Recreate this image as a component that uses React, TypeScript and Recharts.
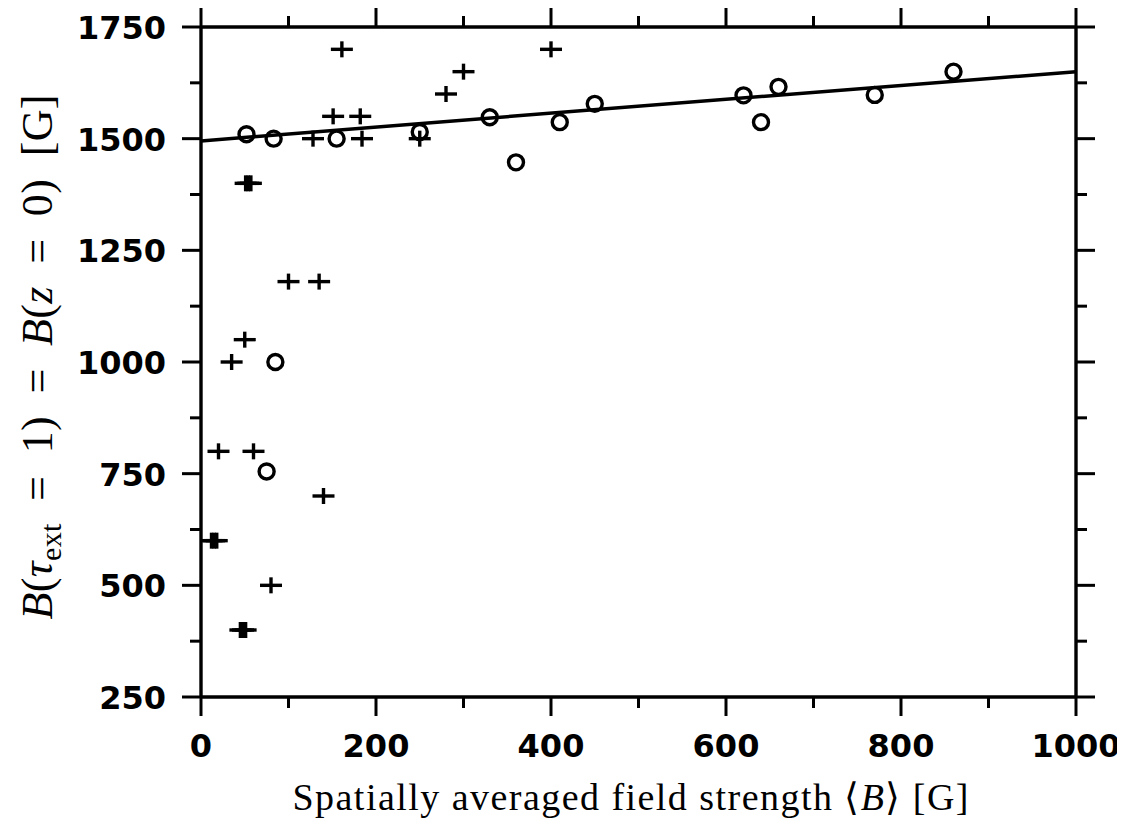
import React from "react";
import { ScatterChart, Scatter, XAxis, YAxis, ReferenceLine } from "recharts";

// "+" symbols (x = <B>, y = B(tau=1))
const PLUS_X = [161, 250, 151, 182, 128, 184, 300, 280, 400, 51, 54, 57, 100, 135, 50, 35, 20, 60, 140, 12, 15, 18, 80, 45, 48, 51];
const PLUS_Y = [1700, 1500, 1550, 1550, 1500, 1500, 1650, 1600, 1700, 1400, 1400, 1400, 1180, 1180, 1050, 1000, 800, 800, 700, 600, 600, 600, 500, 400, 400, 400];

// "o" symbols
const CIRCLE_X = [52, 83, 155, 250, 330, 360, 410, 450, 620, 640, 660, 770, 860, 85, 75];
const CIRCLE_Y = [1510, 1500, 1500, 1515, 1548, 1447, 1537, 1578, 1597, 1537, 1616, 1598, 1650, 1000, 755];

// linear fit
const FIT_X = [0, 1000];
const FIT_Y = [1495, 1650];

const X_TICKS = [0, 100, 200, 300, 400, 500, 600, 700, 800, 900, 1000];
const Y_TICKS = [250, 375, 500, 625, 750, 875, 1000, 1125, 1250, 1375, 1500, 1625, 1750];

const plusData = PLUS_X.map((x, i) => ({ x, y: PLUS_Y[i] }));
const circleData = CIRCLE_X.map((x, i) => ({ x, y: CIRCLE_Y[i] }));

const MAJOR = 19;
const MINOR = 11;
const tickFont = {
  fontFamily: "'DejaVu Sans', sans-serif",
  fontWeight: 700,
  fontSize: 32,
  fill: "#000",
};
const serif = "'Liberation Serif', 'Times New Roman', serif";

const BottomTick = (props: any) => {
  const { x, y, payload } = props;
  const v = payload.value;
  const major = v % 200 === 0;
  return (
    <g>
      <line x1={x} x2={x} y1={y} y2={y + (major ? MAJOR : MINOR)} stroke="#000" strokeWidth={3} />
      {major && (
        <text x={x} y={y + 60} textAnchor="middle" {...tickFont}>
          {v}
        </text>
      )}
    </g>
  );
};

const TopTick = (props: any) => {
  const { x, y, payload } = props;
  const major = payload.value % 200 === 0;
  return <line x1={x} x2={x} y1={y} y2={y - (major ? MAJOR : MINOR)} stroke="#000" strokeWidth={3} />;
};

const LeftTick = (props: any) => {
  const { x, y, payload } = props;
  const v = payload.value;
  const major = v % 250 === 0;
  return (
    <g>
      <line x1={x} x2={x - (major ? MAJOR : MINOR)} y1={y} y2={y} stroke="#000" strokeWidth={3} />
      {major && (
        <text x={x - 35} y={y + 12} textAnchor="end" {...tickFont}>
          {v}
        </text>
      )}
    </g>
  );
};

const RightTick = (props: any) => {
  const { x, y, payload } = props;
  const major = payload.value % 250 === 0;
  return <line x1={x} x2={x + (major ? MAJOR : MINOR)} y1={y} y2={y} stroke="#000" strokeWidth={3} />;
};

const PlusMark = (props: any) => {
  const { cx, cy } = props;
  return (
    <g stroke="#000" strokeWidth={3.4}>
      <line x1={cx - 11} x2={cx + 11} y1={cy} y2={cy} />
      <line x1={cx} x2={cx} y1={cy - 8} y2={cy + 8} />
    </g>
  );
};

const CircleMark = (props: any) => {
  const { cx, cy } = props;
  return <circle cx={cx} cy={cy} r={7.5} fill="none" stroke="#000" strokeWidth={3.4} />;
};

const XTitle = (props: any) => {
  const { viewBox } = props;
  const cx = viewBox.x + viewBox.width / 2 - 8;
  return (
    <text
      x={cx}
      y={viewBox.y + 113}
      textAnchor="middle"
      fontFamily={serif}
      fontSize={38}
      fill="#000"
      textLength={676}
      lengthAdjust="spacing"
    >
      Spatially averaged field strength ⟨<tspan fontStyle="italic">B</tspan>⟩ [G]
    </text>
  );
};

const YTitle = (props: any) => {
  const { viewBox } = props;
  const cy = viewBox.y + viewBox.height / 2 - 5;
  const tx = 44;
  return (
    <text
      x={tx}
      y={cy}
      transform={`rotate(-90, ${tx}, ${cy})`}
      textAnchor="middle"
      fontFamily={serif}
      fontSize={44}
      fill="#000"
      textLength={525}
      lengthAdjust="spacing"
    >
      <tspan fontStyle="italic">B</tspan>(<tspan fontStyle="italic">τ</tspan>
      <tspan dy={9} fontSize={30}>ext</tspan>
      <tspan dy={-9}>{"\u2002=\u20021)\u2002=\u2002"}</tspan>
      <tspan fontStyle="italic">B</tspan>(<tspan fontStyle="italic">z</tspan>
      {"\u2002=\u20020)\u2002[G]"}
    </text>
  );
};

const axisLine = { stroke: "#000", strokeWidth: 3.4 };

export default function App() {
  return (
    <div style={{ width: 1117, height: 819, background: "#fff" }}>
      <ScatterChart width={1117} height={819} margin={{ top: 18, right: 48, bottom: 30, left: 0 }}>
        <XAxis
          type="number"
          dataKey="x"
          domain={[0, 1000]}
          ticks={X_TICKS}
          interval={0}
          height={100}
          tickSize={0}
          tickMargin={0}
          tickLine={false}
          axisLine={axisLine}
          tick={<BottomTick />}
          label={(p: any) => <XTitle {...p} />}
        />
        <XAxis
          xAxisId="top"
          orientation="top"
          type="number"
          dataKey="x"
          domain={[0, 1000]}
          ticks={X_TICKS}
          interval={0}
          height={1}
          tickSize={0}
          tickMargin={0}
          tickLine={false}
          axisLine={axisLine}
          tick={<TopTick />}
        />
        <YAxis
          type="number"
          dataKey="y"
          domain={[250, 1750]}
          ticks={Y_TICKS}
          interval={0}
          width={193}
          tickSize={0}
          tickMargin={0}
          tickLine={false}
          axisLine={axisLine}
          tick={<LeftTick />}
          label={(p: any) => <YTitle {...p} />}
        />
        <YAxis
          yAxisId="right"
          orientation="right"
          type="number"
          dataKey="y"
          domain={[250, 1750]}
          ticks={Y_TICKS}
          interval={0}
          width={1}
          tickSize={0}
          tickMargin={0}
          tickLine={false}
          axisLine={axisLine}
          tick={<RightTick />}
        />
        <ReferenceLine
          segment={[
            { x: FIT_X[0], y: FIT_Y[0] },
            { x: FIT_X[1], y: FIT_Y[1] },
          ]}
          stroke="#000"
          strokeWidth={3.5}
          ifOverflow="visible"
        />
        <Scatter data={plusData} shape={<PlusMark />} isAnimationActive={false} />
        <Scatter
          data={circleData}
          xAxisId="top"
          yAxisId="right"
          shape={<CircleMark />}
          isAnimationActive={false}
        />
      </ScatterChart>
    </div>
  );
}
